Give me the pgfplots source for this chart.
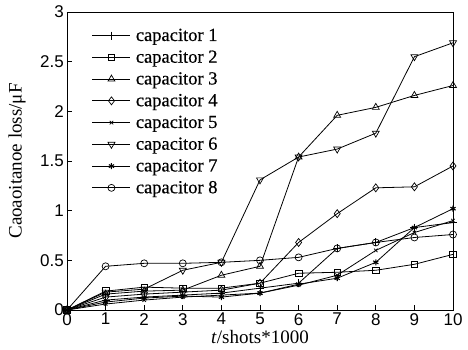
\documentclass[border=0pt]{standalone}
\usepackage{fontspec}
\setmainfont{Liberation Serif}
\newfontfamily\arial{Liberation Sans}
\newfontfamily\legfont[FakeBold=0.4]{Liberation Serif}
\usepackage{pgfplots}
\pgfplotsset{compat=1.18}
\begin{document}
\begin{tikzpicture}
\path[use as bounding box] (-67pt,-39pt) rectangle (401pt,310pt);
\begin{axis}[
  at={(0pt,0pt)}, anchor=south west,
  scale only axis,
  width=386pt, height=298pt,
  xmin=0, xmax=10, ymin=0, ymax=3,
  xtick={0,1,...,10},
  ytick={0,0.5,1,1.5,2,2.5,3},
  yticklabels={0,0.5,1,1.5,2,2.5,3},
  xtick pos=left, ytick pos=left,
  tick align=inside,
  major tick length=5pt,
  axis line style={line width=0.9pt},
  tick style={line width=0.8pt, black},
  /pgf/number format/assume math mode=true,
  tick label style={font=\arial\fontsize{17}{17}\selectfont},
  xticklabel style={inner sep=1pt, yshift=-2pt},
  yticklabel style={inner sep=1pt, xshift=-2pt},
  xlabel={\textit{t}/shots*1000},
  ylabel={Caoaoitanoe loss/μF},
  label style={font=\fontsize{19}{19}\selectfont},
  xlabel style={at={(axis description cs:0.5,-0.0906)}, anchor=center},
  ylabel style={at={(axis description cs:-0.1295,0.5)}, anchor=center},
  legend style={at={(0.0566,0.958)}, anchor=north west, draw=none, fill=none,
    font=\legfont\fontsize{18.5}{18.5}\selectfont, row sep=4pt,
    /tikz/every odd column/.append style={column sep=3pt}},
  legend cell align=left,
  legend image code/.code={\draw[mark repeat=2,mark phase=2] plot coordinates {(0pt,0pt)(19pt,0pt)(38pt,0pt)};},
]
\addplot[black, solid, line width=0.8pt, mark=+, mark size=4pt, mark options={solid, line width=0.7pt}] coordinates {(0,0)(1,0.10)(2,0.13)(3,0.15)(4,0.17)(5,0.22)(6,0.27)(7,0.62)(8,0.68)(9,0.83)(10,0.88)};
\addlegendentry{capacitor 1}
\addplot[black, solid, line width=0.8pt, mark=square, mark size=3.3pt, mark options={solid, fill=white, line width=0.7pt}] coordinates {(0,0)(1,0.19)(2,0.23)(3,0.22)(4,0.22)(5,0.27)(6,0.37)(7,0.38)(8,0.40)(9,0.46)(10,0.56)};
\addlegendentry{capacitor 2}
\addplot[black, solid, line width=0.8pt, mark=triangle, mark size=4pt, mark options={solid, fill=white, line width=0.7pt}] coordinates {(0,0)(1,0.16)(2,0.19)(3,0.20)(4,0.35)(5,0.44)(6,1.54)(7,1.96)(8,2.04)(9,2.16)(10,2.26)};
\addlegendentry{capacitor 3}
\addplot[black, solid, line width=0.8pt, mark=diamond, mark size=4pt, mark options={solid, fill=white, line width=0.7pt}] coordinates {(0,0)(1,0.13)(2,0.16)(3,0.18)(4,0.20)(5,0.27)(6,0.68)(7,0.97)(8,1.23)(9,1.24)(10,1.45)};
\addlegendentry{capacitor 4}
\addplot[black, solid, line width=0.8pt, mark=x, mark size=2.5pt, mark options={solid, line width=0.7pt}] coordinates {(0,0)(1,0.06)(2,0.10)(3,0.13)(4,0.15)(5,0.17)(6,0.25)(7,0.35)(8,0.60)(9,0.78)(10,0.90)};
\addlegendentry{capacitor 5}
\addplot[black, solid, line width=0.8pt, mark=triangle, mark size=4pt, mark options={solid, fill=white, line width=0.7pt, rotate=180}] coordinates {(0,0)(1,0.18)(2,0.21)(3,0.40)(4,0.48)(5,1.31)(6,1.54)(7,1.62)(8,1.78)(9,2.55)(10,2.69)};
\addlegendentry{capacitor 6}
\addplot[black, solid, line width=0.8pt, mark=asterisk, mark size=3pt, mark options={solid, line width=1.1pt}] coordinates {(0,0)(1,0.08)(2,0.12)(3,0.14)(4,0.13)(5,0.17)(6,0.26)(7,0.32)(8,0.48)(9,0.83)(10,1.02)};
\addlegendentry{capacitor 7}
\addplot[black, solid, line width=0.8pt, mark=o, mark size=3.5pt, mark options={solid, fill=white, line width=0.7pt}] coordinates {(0,0)(1,0.44)(2,0.47)(3,0.47)(4,0.48)(5,0.50)(6,0.53)(7,0.62)(8,0.68)(9,0.73)(10,0.76)};
\addlegendentry{capacitor 8}
\end{axis}
\end{tikzpicture}
\end{document}
